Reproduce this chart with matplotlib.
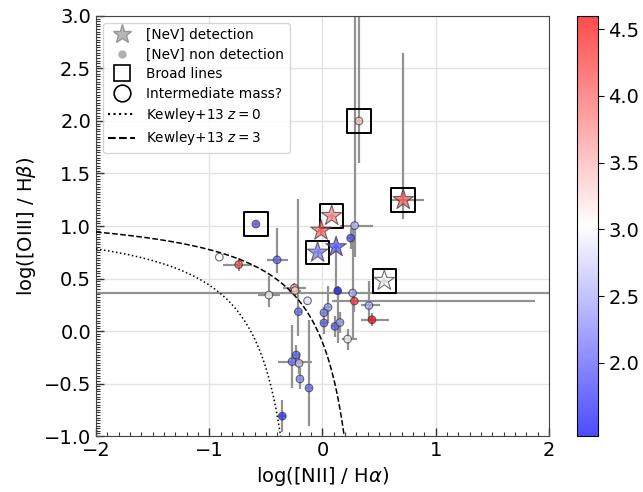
import numpy as np
import matplotlib
matplotlib.use("Agg")
import matplotlib.pyplot as plt
from matplotlib.lines import Line2D
from matplotlib.ticker import MultipleLocator

# ---- data: [NeV] detections (stars) ----
star_x = [0.713, 0.081, -0.013, -0.043, 0.120, 0.546]
star_y = [1.249, 1.097, 0.957, 0.748, 0.80, 0.479]
star_c = [4.1, 3.8, 4.0, 2.2, 1.9, 3.0]
star_box = [True, True, False, True, False, True]
star_xerr_lo = [0.10, 0.03, 0.03, 0.03, 0.03, 0.03]
star_xerr_hi = [0.18, 0.03, 0.03, 0.03, 0.03, 0.03]
star_yerr_lo = [0.18, 0.03, 0.03, 0.03, 0.44, 0.03]
star_yerr_hi = [1.40, 0.03, 0.03, 0.03, 0.03, 0.03]

# ---- data: [NeV] non detections (circles) ----
circ_x = [-0.588, 0.322, -0.911, -0.740, -0.401, -0.473, -0.248, -0.243, -0.213,
          -0.132, 0.049, 0.013, 0.013, 0.110, 0.154, 0.222, 0.134, 0.266,
          0.281, 0.410, 0.437, 0.249, 0.284, -0.232, -0.269, -0.207, -0.199,
          -0.119, -0.355]
circ_y = [1.018, 2.0, 0.703, 0.633, 0.678, 0.342, 0.41, 0.385, 0.184,
          0.288, 0.225, 0.174, 0.076, 0.044, 0.081, -0.077, 0.383, 0.361,
          0.285, 0.243, 0.107, 0.884, 1.004, -0.229, -0.292, -0.308, -0.457,
          -0.543, -0.811]
circ_c = [2.0, 3.35, 3.05, 4.2, 2.0, 3.0, 3.6, 3.3, 2.1,
          2.8, 2.4, 2.2, 2.0, 2.0, 2.4, 3.0, 1.6, 2.5,
          4.3, 2.5, 4.6, 1.9, 2.6, 2.0, 2.1, 2.6, 2.3,
          2.1, 1.7]
circ_box = [True, True] + [False] * 27
circ_xerr_lo = [0.03, 0.03, 0.0, 0.14, 0.09, 0.10, 0.10, 0.05, 0.03,
                0.0, 0.03, 0.03, 0.03, 0.03, 0.03, 0.05, 0.03, 2.30,
                0.20, 0.07, 0.10, 0.03, 0.13, 0.03, 0.12, 0.03, 0.03,
                0.03, 0.03]
circ_xerr_hi = [0.03, 0.03, 0.0, 0.12, 0.10, 0.10, 0.10, 0.05, 0.03,
                0.0, 0.03, 0.03, 0.03, 0.03, 0.03, 0.08, 0.03, 2.30,
                1.595, 0.10, 0.15, 0.03, 0.16, 0.03, 0.18, 0.03, 0.03,
                0.03, 0.03]
circ_yerr_lo = [0.03, 0.40, 0.0, 0.06, 0.13, 0.11, 0.05, 0.05, 0.23,
                0.0, 0.15, 0.05, 0.10, 0.10, 0.10, 0.10, 0.50, 0.44,
                0.10, 0.13, 0.06, 0.10, 0.30, 0.10, 0.25, 0.10, 0.10,
                0.36, 0.15]
circ_yerr_hi = [0.03, 1.50, 0.0, 0.06, 0.30, 0.18, 0.05, 0.05, 1.07,
                0.0, 0.20, 0.05, 0.08, 0.10, 0.10, 0.10, 0.05, 0.67,
                0.10, 0.23, 0.06, 0.10, 2.50, 0.10, 0.35, 0.10, 0.10,
                0.65, 0.15]

cmin, cmax = 1.45, 4.6
cbar_ticks = [2.0, 2.5, 3.0, 3.5, 4.0, 4.5]

plt.rcParams['font.family'] = 'DejaVu Sans'
fig = plt.figure(figsize=(6.43, 4.92), dpi=100)
ax = fig.add_axes([0.1493, 0.1138, 0.7045, 0.8537])
cax = fig.add_axes([0.897, 0.1138, 0.033, 0.8537])

ecol = '#929292'
# error bars
ax.errorbar(circ_x, circ_y,
            xerr=[circ_xerr_lo, circ_xerr_hi], yerr=[circ_yerr_lo, circ_yerr_hi],
            fmt='none', ecolor=ecol, elinewidth=1.6, capsize=0, zorder=2)
ax.errorbar(star_x, star_y,
            xerr=[star_xerr_lo, star_xerr_hi], yerr=[star_yerr_lo, star_yerr_hi],
            fmt='none', ecolor=ecol, elinewidth=1.6, capsize=0, zorder=2)

# Kewley+13 curves
def kewley13(xx, z):
    return 0.61 / (xx + 0.08 - 0.1833 * z) + 1.1 + 0.03 * z

x0 = np.linspace(-2.0, -0.37, 400)
x3 = np.linspace(-2.0, 0.20, 400)
ax.plot(x0, kewley13(x0, 0), ls=':', color='black', lw=1.1, zorder=3)
ax.plot(x3, kewley13(x3, 3), ls='--', color='black', lw=1.1, zorder=3)

# boxes
bx = [x for x, b in zip(star_x, star_box) if b] + [x for x, b in zip(circ_x, circ_box) if b]
by = [y for y, b in zip(star_y, star_box) if b] + [y for y, b in zip(circ_y, circ_box) if b]
ax.scatter(bx, by, marker='s', s=290, facecolors='none', edgecolors='black',
           linewidths=1.4, zorder=4)

sc = ax.scatter(circ_x, circ_y, c=circ_c, cmap='bwr', vmin=cmin, vmax=cmax,
                s=30, edgecolors='#333333', linewidths=0.8, alpha=0.7, zorder=5)
ax.scatter(star_x, star_y, c=star_c, cmap='bwr', vmin=cmin, vmax=cmax,
           marker='*', s=240, edgecolors='#333333', linewidths=0.8, alpha=0.7, zorder=6)

ax.set_xlim(-2, 2)
ax.set_ylim(-1, 3)
ax.xaxis.set_major_locator(MultipleLocator(1))
ax.xaxis.set_minor_locator(MultipleLocator(0.1))
ax.yaxis.set_major_locator(MultipleLocator(0.5))
ax.yaxis.set_minor_locator(MultipleLocator(0.025))
ax.tick_params(which='both', direction='in', top=False, right=False,
               labelsize=14, colors='#333333', labelcolor='black')
ax.tick_params(which='major', length=6, width=1)
ax.tick_params(which='minor', length=3, width=0.8)
for sp in ax.spines.values():
    sp.set_color('#444444')
ax.grid(True, which='major', color='#e3e3e3', lw=1.0, zorder=0)
ax.set_axisbelow(True)
ax.set_xlabel(r'log([NII] / H$\alpha$)', fontsize=14)
ax.set_ylabel(r'log([OIII] / H$\beta$)', fontsize=14)

handles = [
    Line2D([], [], marker='*', ls='none', markersize=14, color='#b0b0b0',
           markeredgecolor='#909090', alpha=0.9),
    Line2D([], [], marker='o', ls='none', markersize=5, color='#b0b0b0',
           markeredgecolor='#b0b0b0'),
    Line2D([], [], marker='s', ls='none', markersize=12, markerfacecolor='none',
           markeredgecolor='black', markeredgewidth=1.2),
    Line2D([], [], marker='o', ls='none', markersize=12, markerfacecolor='none',
           markeredgecolor='black', markeredgewidth=1.2),
    Line2D([], [], ls=':', color='black', lw=1.5),
    Line2D([], [], ls='--', color='black', lw=1.5),
]
labels = ['[NeV] detection', '[NeV] non detection', 'Broad lines',
          'Intermediate mass?', r'Kewley+13 $z = 0$', r'Kewley+13 $z = 3$']
ax.legend(handles, labels, loc='upper left', fontsize=9.8, framealpha=0.8,
          labelspacing=0.4)

cb = fig.colorbar(sc, cax=cax)
cb.set_ticks(cbar_ticks)
cb.ax.tick_params(labelsize=14, length=4)

fig.savefig('out.png', dpi=100)
